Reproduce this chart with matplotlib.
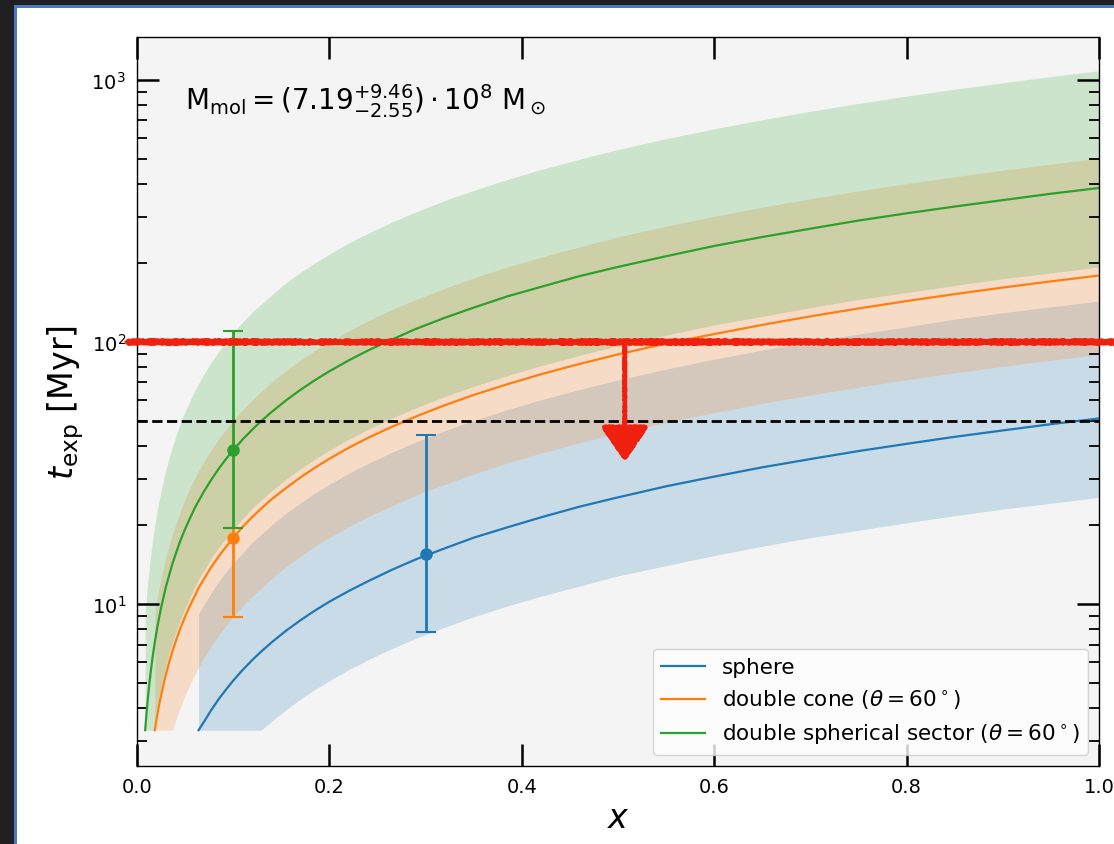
import numpy as np
import matplotlib
matplotlib.use("Agg")
import matplotlib.pyplot as plt
from matplotlib.patches import Rectangle

nan = np.nan

# fraction x at which each model is sampled
x_frac = [0.0085, 0.0095, 0.0105, 0.0115, 0.0125, 0.014, 0.0155, 0.017, 0.0185, 0.0205,
          0.0225, 0.025, 0.0275, 0.03, 0.0335, 0.037, 0.041, 0.045, 0.05, 0.055,
          0.06, 0.064, 0.07, 0.077, 0.085, 0.093, 0.1, 0.11, 0.12, 0.129,
          0.14, 0.155, 0.17, 0.185, 0.2, 0.22, 0.24, 0.265, 0.29, 0.32,
          0.35, 0.385, 0.42, 0.46, 0.5, 0.55, 0.6, 0.65, 0.7, 0.75,
          0.8, 0.85, 0.9, 0.95, 1.0]

# expansion time [Myr]: central curve, lower and upper edge of the band
sphere_t = [nan, nan, nan, nan, nan, nan, nan, nan, nan, nan,
            nan, nan, nan, nan, nan, nan, nan, nan, nan, nan,
            nan, 3.3, 3.57, 3.93, 4.34, 4.74, 5.1, 5.61, 6.12, 6.58,
            7.14, 7.91, 8.67, 9.44, 10.2, 11.2, 12.2, 13.5, 14.8, 16.3,
            17.9, 19.6, 21.4, 23.5, 25.5, 28.1, 30.6, 33.2, 35.7, 38.3,
            40.8, 43.4, 45.9, 48.5, 51.0]
sphere_lo = [nan, nan, nan, nan, nan, nan, nan, nan, nan, nan,
             nan, nan, nan, nan, nan, nan, nan, nan, nan, nan,
             nan, 3.3, 3.3, 3.3, 3.3, 3.3, 3.3, 3.3, 3.3, 3.3,
             3.57, 3.95, 4.34, 4.72, 5.1, 5.61, 6.12, 6.76, 7.4, 8.16,
             8.93, 9.82, 10.7, 11.7, 12.8, 14.0, 15.3, 16.6, 17.9, 19.1,
             20.4, 21.7, 23.0, 24.2, 25.5]
sphere_hi = [nan, nan, nan, nan, nan, nan, nan, nan, nan, nan,
             nan, nan, nan, nan, nan, nan, nan, nan, nan, nan,
             nan, 9.15, 10.0, 11.0, 12.2, 13.3, 14.3, 15.7, 17.2, 18.4,
             20.0, 22.2, 24.3, 26.5, 28.6, 31.5, 34.3, 37.9, 41.5, 45.8,
             50.1, 55.1, 60.1, 65.8, 71.5, 78.7, 85.8, 93.0, 100, 107,
             114, 122, 129, 136, 143]

cone_t = [nan, nan, nan, nan, nan, nan, nan, nan, 3.3, 3.67,
          4.03, 4.48, 4.92, 5.37, 6.0, 6.62, 7.34, 8.06, 8.95, 9.85,
          10.7, 11.5, 12.5, 13.8, 15.2, 16.6, 17.9, 19.7, 21.5, 23.1,
          25.1, 27.7, 30.4, 33.1, 35.8, 39.4, 43.0, 47.4, 51.9, 57.3,
          62.7, 68.9, 75.2, 82.3, 89.5, 98.5, 107, 116, 125, 134,
          143, 152, 161, 170, 179]
cone_lo = [nan, nan, nan, nan, nan, nan, nan, nan, 3.3, 3.3,
           3.3, 3.3, 3.3, 3.3, 3.3, 3.31, 3.67, 4.03, 4.48, 4.92,
           5.37, 5.73, 6.27, 6.89, 7.61, 8.32, 8.95, 9.85, 10.7, 11.5,
           12.5, 13.9, 15.2, 16.6, 17.9, 19.7, 21.5, 23.7, 26.0, 28.6,
           31.3, 34.5, 37.6, 41.2, 44.8, 49.2, 53.7, 58.2, 62.7, 67.1,
           71.6, 76.1, 80.6, 85.0, 89.5]
cone_hi = [nan, nan, nan, nan, nan, nan, nan, nan, 9.27, 10.27,
           11.27, 12.5, 13.8, 15.0, 16.8, 18.5, 20.5, 22.5, 25.1, 27.6,
           30.1, 32.1, 35.1, 38.6, 42.6, 46.6, 50.1, 55.1, 60.1, 64.6,
           70.1, 77.7, 85.2, 92.7, 100, 110, 120, 133, 145, 160,
           175, 193, 210, 230, 251, 276, 301, 326, 351, 376,
           401, 426, 451, 476, 501]

sector_t = [3.3, 3.67, 4.05, 4.44, 4.83, 5.4, 5.98, 6.56, 7.14, 7.91,
            8.69, 9.65, 10.6, 11.6, 12.9, 14.3, 15.8, 17.4, 19.3, 21.2,
            23.2, 24.7, 27.0, 29.7, 32.8, 35.9, 38.6, 42.5, 46.3, 49.8,
            54.0, 59.8, 65.6, 71.4, 77.2, 84.9, 92.6, 102, 112, 123.5,
            135, 149, 162, 178, 193, 212, 232, 251, 270, 290,
            309, 328, 347, 367, 386]
sector_lo = [3.3, 3.3, 3.3, 3.3, 3.3, 3.3, 3.3, 3.3, 3.57, 3.96,
             4.34, 4.83, 5.31, 5.79, 6.47, 7.14, 7.91, 8.69, 9.65, 10.6,
             11.6, 12.4, 13.5, 14.9, 16.4, 17.9, 19.3, 21.2, 23.2, 24.9,
             27.0, 29.9, 32.8, 35.7, 38.6, 42.5, 46.3, 51.1, 56.0, 61.8,
             67.6, 74.3, 81.1, 88.8, 96.5, 106, 116, 125, 135, 145,
             154, 164, 174, 183, 193]
sector_hi = [9.19, 10.27, 11.35, 12.43, 13.51, 15.13, 16.76, 18.38, 20.0, 22.16,
             24.32, 27.0, 29.7, 32.4, 36.2, 40.0, 44.3, 48.6, 54.1, 59.5,
             64.9, 69.2, 75.7, 83.2, 91.9, 101, 108, 119, 130, 139,
             151, 168, 184, 200, 216, 238, 259, 286, 313, 346,
             378, 416, 454, 497, 541, 595, 649, 703, 757, 811,
             865, 919, 973, 1027, 1081]

# single measurements with their ranges
pt_x = [0.3, 0.1, 0.1]
pt_t = [15.5, 17.8, 38.6]
pt_lo = [7.8, 8.9, 19.4]
pt_hi = [44.0, 19.4, 110.0]

labels = ["sphere",
          r"double cone ($\theta=60^\circ$)",
          r"double spherical sector ($\theta=60^\circ$)"]
colors = ["#1f77b4", "#ff7f0e", "#2ca02c"]

t_ref = 50
t_limit = 100
t_arrow_tip = 35
x_arrow = 0.507

W, H = 1114, 845
fig = plt.figure(figsize=(W / 100, H / 100), dpi=100, facecolor="white")
ax = fig.add_axes([137 / W, 1 - 766.5 / H, (1099 - 137) / W, (766.5 - 38.3) / H])
ax.set_facecolor("#f4f4f4")

models = [(sphere_t, sphere_lo, sphere_hi),
          (cone_t, cone_lo, cone_hi),
          (sector_t, sector_lo, sector_hi)]
for (t, lo, hi), c, lab in zip(models, colors, labels):
    ax.fill_between(x_frac, lo, hi, color=c, alpha=0.2, lw=0)
    ax.plot(x_frac, t, color=c, lw=1.6, label=lab, solid_joinstyle="round")

for i in range(3):
    ax.errorbar(pt_x[i], pt_t[i],
                yerr=[[pt_t[i] - pt_lo[i]], [pt_hi[i] - pt_t[i]]],
                fmt="o", color=colors[i], ms=8, elinewidth=2, capsize=7, capthick=1.5)

ax.axhline(t_ref, color="black", ls="--", lw=2)

# hand-drawn upper limit
red = "#f0200f"
lim, = ax.plot([-0.009, 1.05], [t_limit, t_limit], color=red, lw=4, clip_on=False,
               zorder=6)
lim.set_sketch_params(scale=1.2, length=2.5, randomness=1.5)
arr = ax.annotate("", xy=(x_arrow, t_arrow_tip), xytext=(x_arrow, t_limit),
                  arrowprops=dict(arrowstyle="-|>,head_length=22,head_width=15",
                                  mutation_scale=1, color=red, lw=3,
                                  shrinkA=0, shrinkB=0), zorder=6)
arr.arrow_patch.set_sketch_params(scale=0.8, length=2.5, randomness=1.5)

ax.set_yscale("log")
ax.set_xlim(0, 1)
ax.set_ylim(2.42, 1450)
ax.set_xticks([0, 0.2, 0.4, 0.6, 0.8, 1.0])
ax.tick_params(which="both", direction="in", top=True, right=True, labelsize=14)
ax.tick_params(which="major", length=16, width=1.8, pad=8)
ax.tick_params(which="minor", length=7, width=1.3)
for s in ax.spines.values():
    s.set_linewidth(1.0)

ax.set_xlabel(r"$x$", fontsize=24)
ax.set_ylabel(r"$t_{\rm exp}$ [Myr]", fontsize=24)

ax.text(0.05, 0.94,
        r"$\mathrm{M_{mol}} = (7.19^{+9.46}_{-2.55}) \cdot 10^8\ \mathrm{M}_\odot$",
        transform=ax.transAxes, fontsize=20, va="top", ha="left")

ax.legend(loc="lower right", fontsize=15.5)

# window frame around the figure
fig.add_artist(Rectangle((0, 0), 14 / W, 1, transform=fig.transFigure,
                         color="#1f1f1f", lw=0))
fig.add_artist(Rectangle((0, 1 - 6 / H), 1, 6 / H, transform=fig.transFigure,
                         color="#1f1f1f", lw=0))
fig.add_artist(Rectangle((14 / W, 0), 2.6 / W, 1 - 6 / H, transform=fig.transFigure,
                         color="#4a78c8", lw=0))
fig.add_artist(Rectangle((14 / W, 1 - 8.6 / H), 1, 2.6 / H, transform=fig.transFigure,
                         color="#4a78c8", lw=0))

fig.savefig("out.png", dpi=100)
plt.close(fig)
